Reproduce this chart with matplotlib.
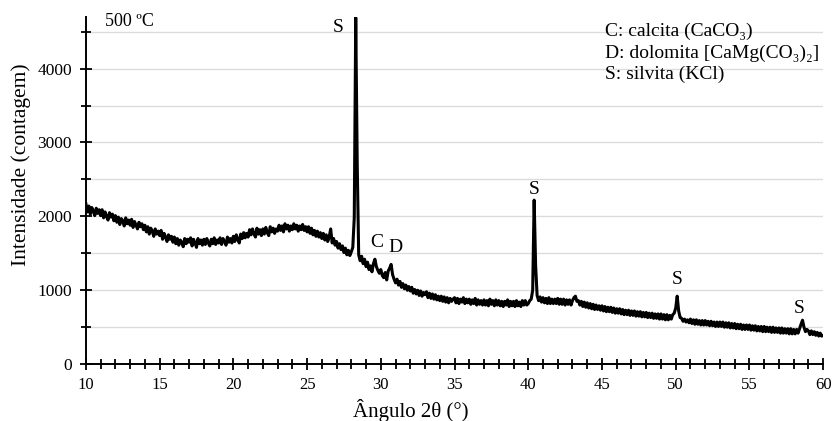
import numpy as np
import matplotlib.pyplot as plt
from matplotlib.ticker import MultipleLocator
from matplotlib.patches import Rectangle

plt.rcParams['font.family'] = ['Liberation Serif', 'DejaVu Serif']

# XRD scan, 10-60 deg 2theta, step 0.1 deg (one row per degree)
two_theta_start = 10.0
two_theta_step = 0.1
counts = [
    2170, 2060, 2140, 2030, 2120, 2070, 2010, 2110, 2040, 2090,  # 10
    2010, 2090, 1980, 2060, 2000, 1950, 2050, 1990, 2030, 1940,  # 11
    2010, 1920, 1990, 1890, 1970, 1940, 1870, 1980, 1900, 1950,  # 12
    1880, 1960, 1850, 1930, 1880, 1830, 1920, 1860, 1900, 1820,  # 13
    1880, 1790, 1860, 1760, 1840, 1800, 1730, 1830, 1760, 1800,  # 14
    1740, 1810, 1690, 1770, 1720, 1660, 1750, 1690, 1730, 1650,  # 15
    1720, 1630, 1700, 1610, 1680, 1650, 1590, 1700, 1630, 1690,  # 16
    1650, 1710, 1600, 1690, 1640, 1580, 1700, 1630, 1680, 1610,  # 17
    1690, 1620, 1700, 1640, 1600, 1690, 1630, 1710, 1620, 1680,  # 18
    1640, 1710, 1620, 1700, 1660, 1610, 1720, 1650, 1700, 1640,  # 19
    1730, 1660, 1750, 1690, 1640, 1760, 1700, 1780, 1710, 1770,  # 20
    1720, 1820, 1750, 1830, 1760, 1720, 1840, 1760, 1820, 1740,  # 21
    1830, 1760, 1850, 1780, 1740, 1860, 1790, 1840, 1770, 1830,  # 22
    1800, 1880, 1810, 1870, 1790, 1900, 1830, 1880, 1800, 1870,  # 23
    1820, 1900, 1830, 1880, 1800, 1870, 1820, 1890, 1810, 1860,  # 24
    1790, 1860, 1770, 1840, 1750, 1810, 1730, 1800, 1720, 1780,  # 25
    1700, 1770, 1680, 1750, 1660, 1720, 1830, 1640, 1700, 1610,  # 26
    1660, 1570, 1630, 1550, 1600, 1510, 1570, 1480, 1540, 1470,  # 27
    1520, 1580, 1980, 4690, 2720, 1480, 1400, 1460, 1360, 1420,  # 28 (KCl)
    1320, 1380, 1280, 1330, 1250, 1360, 1420, 1320, 1270, 1230,  # 29
    1280, 1200, 1170, 1240, 1140, 1260, 1300, 1350, 1210, 1150,  # 30
    1100, 1150, 1070, 1120, 1040, 1090, 1020, 1070, 1000, 1050,  # 31
    990, 1040, 960, 1010, 950, 1000, 930, 990, 920, 970,  # 32
    940, 980, 900, 960, 890, 950, 880, 940, 870, 920,  # 33
    860, 920, 850, 910, 840, 900, 830, 890, 850, 880,  # 34
    900, 830, 890, 820, 880, 840, 900, 820, 880, 830,  # 35
    880, 810, 870, 820, 890, 800, 870, 810, 860, 800,  # 36
    870, 800, 860, 790, 880, 810, 860, 790, 870, 800,  # 37
    860, 790, 850, 780, 850, 800, 870, 780, 850, 790,  # 38
    850, 780, 860, 790, 840, 780, 860, 800, 860, 800,  # 39
    820, 860, 880, 1000, 2220, 1330, 930, 860, 910, 840,  # 40 (KCl)
    900, 830, 890, 820, 900, 820, 880, 820, 880, 820,  # 41
    890, 810, 880, 810, 880, 800, 870, 810, 870, 800,  # 42
    860, 900, 920, 850, 860, 800, 850, 780, 840, 770,  # 43
    830, 760, 820, 750, 810, 740, 800, 740, 790, 730,  # 44
    790, 720, 780, 710, 770, 710, 770, 700, 760, 690,  # 45
    750, 690, 750, 680, 740, 670, 730, 670, 730, 660,  # 46
    720, 660, 720, 650, 710, 650, 710, 640, 700, 640,  # 47
    700, 630, 690, 630, 690, 620, 680, 620, 680, 610,  # 48
    680, 610, 670, 600, 670, 600, 660, 610, 670, 690,  # 49
    760, 920, 720, 630, 620, 580, 610, 570, 600, 560,  # 50 (KCl)
    610, 550, 600, 540, 600, 540, 590, 530, 590, 530,  # 51
    590, 530, 580, 520, 580, 520, 570, 510, 570, 510,  # 52
    570, 510, 570, 500, 560, 500, 560, 490, 550, 490,  # 53
    550, 480, 540, 480, 540, 470, 530, 470, 530, 470,  # 54
    530, 460, 520, 460, 520, 450, 510, 450, 510, 440,  # 55
    510, 440, 500, 440, 500, 430, 500, 430, 490, 430,  # 56
    490, 420, 490, 420, 480, 420, 480, 410, 480, 410,  # 57
    470, 410, 470, 420, 480, 540, 595, 500, 440, 470,  # 58 (KCl)
    450, 400, 450, 400, 440, 390, 430, 380, 420, 380,  # 59
    390,
]

# phase labels: (text, 2theta, intensity)
peak_labels = [
    ('S', 27.1, 4560),
    ('C', 29.7, 1640),
    ('D', 31.0, 1580),
    ('S', 40.4, 2370),
    ('S', 50.1, 1150),
    ('S', 58.4, 760),
]
phase_legend = ['C: calcita (CaCO₃)',
                'D: dolomita [CaMg(CO₃)₂]',
                'S: silvita (KCl)']

angles = two_theta_start + two_theta_step * np.arange(len(counts))

fig = plt.figure(figsize=(8.34, 4.21), dpi=100)
ax = fig.add_axes([0.103, 0.135, 0.884, 0.825])

ax.plot(angles, counts, color='black', lw=2.2, zorder=3)

ax.set_xlim(10, 60)
ax.set_ylim(0, 4700)
ax.xaxis.set_major_locator(MultipleLocator(5))
ax.xaxis.set_minor_locator(MultipleLocator(1))
ax.yaxis.set_major_locator(MultipleLocator(1000))
ax.yaxis.set_minor_locator(MultipleLocator(500))
ax.tick_params(which='major', direction='inout', length=8, width=1.3,
               color='black')
ax.tick_params(axis='x', which='major', labelsize=12, pad=5)
ax.tick_params(axis='y', which='major', labelsize=12.5, pad=6)
ax.tick_params(which='minor', direction='inout', length=7, width=1.3)
ax.grid(True, axis='y', which='both', color='#dcdcdc', lw=1, zorder=0)

for side in ('top', 'right'):
    ax.spines[side].set_visible(False)
for side in ('left', 'bottom'):
    ax.spines[side].set_linewidth(1.4)

ax.set_xlabel('Ângulo 2θ (°)', fontsize=15)
ax.set_ylabel('Intensidade (contagem)', fontsize=15.5)
ax.xaxis.set_label_coords(0.44, -0.1)
ax.yaxis.set_label_coords(-0.075, 0.575)

ax.text(11.3, 4640, '500 ºC', fontsize=13, va='center')

for txt, x, y in peak_labels:
    ax.text(x, y, txt, fontsize=14, ha='center', va='center', zorder=4)

# blank panel behind the phase key
ax.add_patch(Rectangle((44.3, 3300), 15.7, 1500, facecolor='white',
                       edgecolor='none', zorder=1))
for i, line in enumerate(phase_legend):
    ax.text(45.2, 4500 - i * 290, line, fontsize=14, va='center', zorder=4)

fig.savefig('out.png', dpi=100)
